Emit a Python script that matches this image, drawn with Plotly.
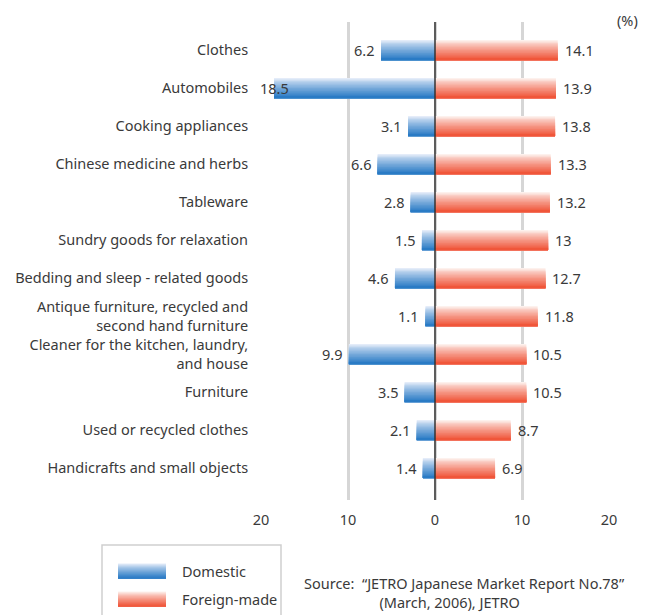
import plotly.graph_objects as go

# Survey results: share of respondents (%) by product category
categories = [
    "Clothes",
    "Automobiles",
    "Cooking appliances",
    "Chinese medicine and herbs",
    "Tableware",
    "Sundry goods for relaxation",
    "Bedding and sleep - related goods",
    "Antique furniture, recycled and<br>second hand furniture",
    "Cleaner for the kitchen, laundry,<br>and house",
    "Furniture",
    "Used or recycled clothes",
    "Handicrafts and small objects",
]
domestic = [6.2, 18.5, 3.1, 6.6, 2.8, 1.5, 4.6, 1.1, 9.9, 3.5, 2.1, 1.4]
foreign = [14.1, 13.9, 13.8, 13.3, 13.2, 13, 12.7, 11.8, 10.5, 10.5, 8.7, 6.9]
tick_vals = [-20, -10, 0, 10, 20]
tick_text = ["20", "10", "0", "10", "20"]

FONT = "Noto Sans"
FS = 14.5
TEXT = "#3a3a3a"
BAR_W = 0.53
STEPS = 14

# top (light) -> bottom (saturated) colour stops
BLUE_TOP, BLUE_BOT = (228, 236, 249), (42, 123, 197)
RED_TOP, RED_BOT = (253, 241, 237), (240, 86, 58)


def mix(c0, c1, t):
    return "rgb({},{},{})".format(*[round(a + (b - a) * t) for a, b in zip(c0, c1)])


fig = go.Figure()


def gradient_bars(values, sign, top, bot):
    # stacked overlapping layers anchored at the lower edge give a vertical gradient
    for k in range(STEPS):
        w = BAR_W * (STEPS - k) / STEPS
        t = (k / (STEPS - 1)) ** 0.8
        fig.add_trace(go.Bar(
            y=categories,
            x=[sign * v for v in values],
            orientation="h",
            width=w,
            offset=BAR_W / 2 - w,
            marker=dict(color=mix(top, bot, t), line=dict(width=0)),
            hoverinfo="skip",
            showlegend=False,
        ))


gradient_bars(domestic, -1, BLUE_TOP, BLUE_BOT)
gradient_bars(foreign, 1, RED_TOP, RED_BOT)

label_font = dict(family=FONT, size=FS, color=TEXT)
annotations = []
for cat, d, f in zip(categories, domestic, foreign):
    if d > 17:
        annotations.append(dict(x=-d, y=cat, text=str(d), showarrow=False,
                                xanchor="center", xshift=0, font=label_font))
    else:
        annotations.append(dict(x=-d, y=cat, text=str(d), showarrow=False,
                                xanchor="right", xshift=-5, font=label_font))
    annotations.append(dict(x=f, y=cat, text=str(f), showarrow=False,
                            xanchor="left", xshift=5, font=label_font))

# paper-coordinate helpers for the area below the plot
X0, X1, Y0, Y1 = 261, 609, 500, 22


def px(x):
    return (x - X0) / (X1 - X0)


def py(y):
    return (Y0 - y) / (Y0 - Y1)


annotations.append(dict(x=px(627), y=py(20), xref="paper", yref="paper", text="(%)",
                        showarrow=False, xanchor="center", yanchor="middle",
                        font=label_font))
indent = "&nbsp;" * 20
annotations.append(dict(x=px(302), y=py(614), xref="paper", yref="paper",
                        text="Source:  \u201cJETRO Japanese Market Report No.78\u201d<br>"
                             + indent + "(March, 2006), JETRO",
                        showarrow=False, xanchor="left", yanchor="bottom", align="left",
                        font=label_font))

shapes = [
    # zero line over the bars
    dict(type="line", xref="x", yref="paper", x0=0, x1=0, y0=0, y1=1,
         line=dict(color="#333333", width=1.5), layer="above"),
    # legend frame
    dict(type="rect", xref="paper", yref="paper", x0=px(102), x1=px(281),
         y0=py(625), y1=py(545), line=dict(color="#cfcfcf", width=1.5),
         fillcolor="white", layer="above"),
]

legend_items = [("Domestic", 571, BLUE_TOP, BLUE_BOT), ("Foreign-made", 599, RED_TOP, RED_BOT)]
for name, cy, top, bot in legend_items:
    h = 15
    for k in range(STEPS):
        t = (k / (STEPS - 1)) ** 0.8
        ya = cy - h / 2 + h * k / STEPS
        shapes.append(dict(type="rect", xref="paper", yref="paper",
                           x0=px(118), x1=px(166), y0=py(cy + h / 2), y1=py(ya),
                           line=dict(width=0), fillcolor=mix(top, bot, t), layer="above"))
    annotations.append(dict(x=px(180), y=py(cy), xref="paper", yref="paper", text=name,
                            showarrow=False, xanchor="left", yanchor="middle",
                            font=label_font))

fig.update_layout(
    width=645, height=615,
    margin=dict(l=X0, r=645 - X1, t=Y1, b=615 - Y0),
    paper_bgcolor="white", plot_bgcolor="white",
    barmode="overlay",
    showlegend=False,
    font=dict(family=FONT, size=FS, color=TEXT),
    xaxis=dict(range=[-20, 20], tickvals=tick_vals, ticktext=tick_text,
               showgrid=True, gridcolor="#d6d6d6", gridwidth=3,
               zeroline=False, showline=False,
               ticks="outside", ticklen=7, tickcolor="rgba(0,0,0,0)",
               tickfont=label_font),
    yaxis=dict(type="category", categoryorder="array", categoryarray=categories,
               range=[11.84, -0.74], showgrid=False, zeroline=False, showline=False,
               ticks="outside", ticklen=9, tickcolor="rgba(0,0,0,0)",
               tickfont=label_font),
    annotations=annotations,
    shapes=shapes,
)

fig.write_html("out.html")
